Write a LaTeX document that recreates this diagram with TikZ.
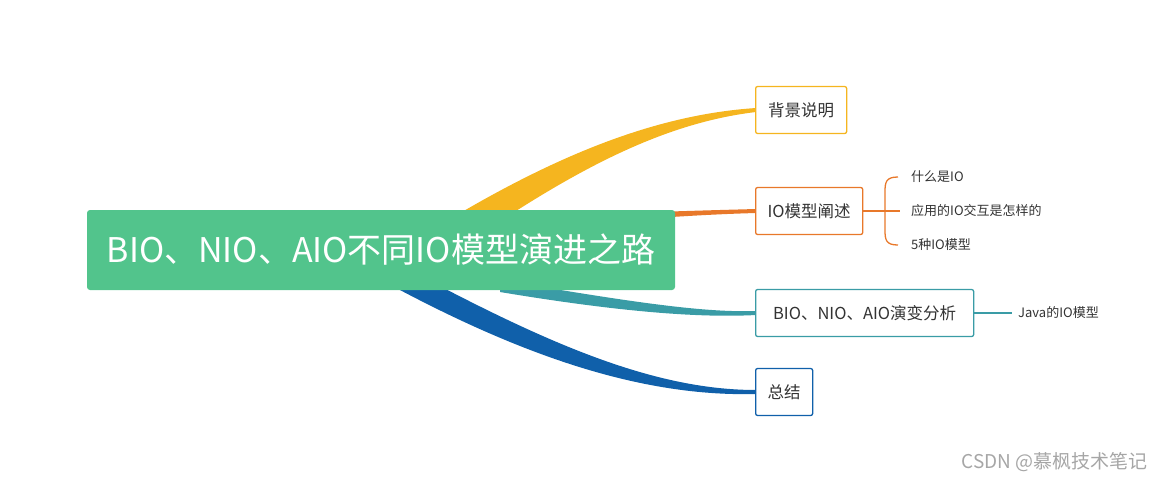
\documentclass[tikz,border=0pt]{standalone}
\usepackage{fontspec}
\newfontfamily\cjk{Noto Sans CJK SC}
\definecolor{cg}{HTML}{52C48C}
\definecolor{cy}{HTML}{F5B51F}
\definecolor{co}{HTML}{E8782A}
\definecolor{ct}{HTML}{3A9CA6}
\definecolor{cb}{HTML}{1060AA}
\definecolor{tx}{HTML}{333333}
\begin{document}
\begin{tikzpicture}[x=1pt,y=-1pt,
  box/.style={draw,line width=1.3pt,rounded corners=2pt,fill=white,text=tx,font=\cjk\fontsize{16.5}{18}\selectfont,anchor=west,minimum height=47pt,inner xsep=12pt,align=left},
  leaf/.style={text=tx,font=\cjk\fontsize{13}{15}\selectfont,anchor=west,inner sep=0pt}]
\useasboundingbox (0,0) rectangle (1163,480);
% branches
\fill[cy] (400,250) .. controls (540,160) and (650,115) .. (756,108) -- (756,112) .. controls (655,124) and (560,178) .. (440,262) -- cycle;
\fill[co] (600,214) .. controls (680,211) and (720,210) .. (756,209) -- (756,213) .. controls (720,214) and (680,216) .. (600,222) -- cycle;
\fill[ct] (500,280) .. controls (620,300) and (700,313) .. (756,311) -- (756,315) .. controls (700,318) and (620,312) .. (500,292) -- cycle;
\fill[cb] (400,265) .. controls (540,340) and (650,390) .. (756,390) -- (756,394) .. controls (640,397) and (520,355) .. (385,282) -- cycle;
\node[fill=cg,rounded corners=3pt,minimum width=588pt,minimum height=80pt,text=white,font=\cjk\fontsize{34}{40}\selectfont,inner sep=0pt] (c) at (381,250) {BIO、NIO、AIO不同IO模型演进之路};
\node[box,draw=cy,minimum width=91pt] (b1) at (755,110) {背景说明};
\node[box,draw=co,minimum width=82pt] (b2) at (755,211) {IO模型阐述};
\node[box,draw=ct,minimum width=218pt] (b3) at (755,313) {BIO、NIO、AIO演变分析};
\node[box,draw=cb,minimum width=57pt] (b4) at (755,392) {总结};
\node[leaf] (l1) at (911,177) {什么是IO};
\node[leaf] (l2) at (911,211) {应用的IO交互是怎样的};
\node[leaf] (l3) at (911,245) {5种IO模型};
\node[leaf] (l4) at (1018,313) {Java的IO模型};
\draw[co,line width=1.3pt] (b2.east) -- (900,211);
\draw[co,line width=1.3pt] (898,177) .. controls (886,177) and (885,182) .. (885,192) -- (885,230) .. controls (885,240) and (886,245) .. (898,245);
\draw[ct,line width=1.3pt] (b3.east) -- (1012,313);
\node[anchor=east,text=gray!70,font=\cjk\fontsize{19}{22}\selectfont,inner sep=0pt] (wm) at (1148,462) {CSDN @慕枫技术笔记};
\end{tikzpicture}
\end{document}
